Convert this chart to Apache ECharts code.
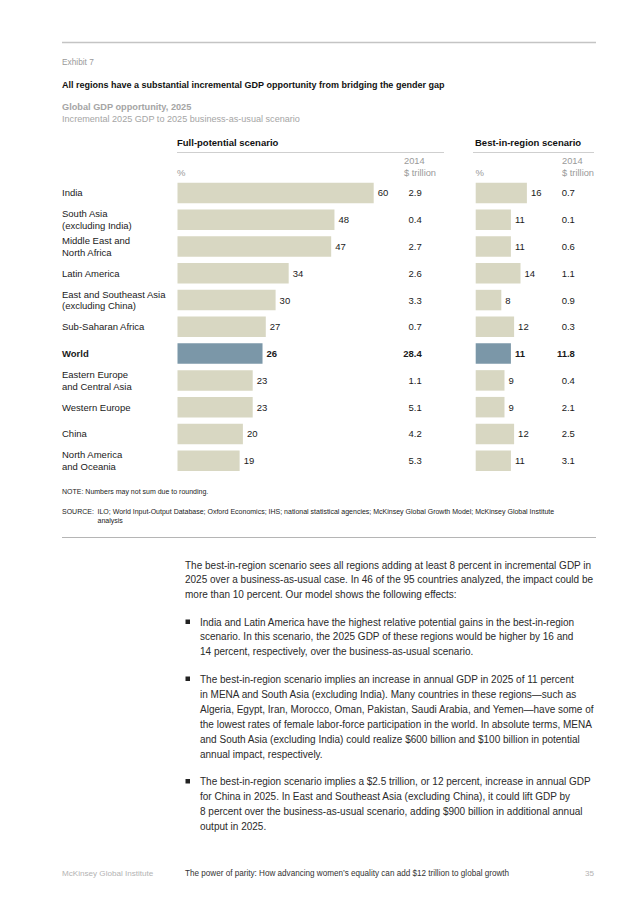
<!DOCTYPE html>
<html><head><meta charset="utf-8">
<script src="https://cdn.jsdelivr.net/npm/echarts@6/dist/echarts.min.js"></script>
<style>html,body{margin:0;padding:0;background:#fff}#c{width:636px;height:900px}</style>
</head><body><div id="c"></div>
<script>
const regions = ['India','South Asia\n(excluding India)','Middle East and\nNorth Africa','Latin America','East and Southeast Asia\n(excluding China)','Sub-Saharan Africa','World','Eastern Europe\nand Central Asia','Western Europe','China','North America\nand Oceania'];
const fullPct = [60,48,47,34,30,27,26,23,23,20,19];
const fullTrillion = ['2.9','0.4','2.7','2.6','3.3','0.7','28.4','1.1','5.1','4.2','5.3'];
const bestPct = [16,11,11,14,8,12,11,9,9,12,11];
const bestTrillion = ['0.7','0.1','0.6','1.1','0.9','0.3','11.8','0.4','2.1','2.5','3.1'];
const highlight = 'World';

const FONT = 'Liberation Sans, Arial, Helvetica, sans-serif';
const BAR = '#d8d7c2', HI = '#7b97a8', INK = '#1a1a1a', GRAY = '#9a9a9a';

const isHi = i => regions[i] === highlight;
const boldFmt = v => v === highlight ? '{b|' + v + '}' : v;
const rich = { b: { fontWeight: 'bold', fontSize: 9.5, color: INK, fontFamily: FONT } };

function barData(vals) {
  return vals.map((v, i) => ({
    value: v,
    itemStyle: { color: isHi(i) ? HI : BAR },
    label: { fontWeight: isHi(i) ? 'bold' : 'normal' }
  }));
}
function yAxes(gi, showLeft, trill) {
  return [
    { gridIndex: gi, type: 'category', data: regions, inverse: true,
      axisLine: { show: false }, axisTick: { show: false }, splitLine: { show: false },
      axisLabel: { show: showLeft, align: 'left', margin: 115.5, fontSize: 9.5, lineHeight: 11.7,
        color: INK, fontFamily: FONT, formatter: boldFmt, rich } },
    { gridIndex: gi, type: 'category', data: trill, inverse: true, position: 'right',
      axisLine: { show: false }, axisTick: { show: false }, splitLine: { show: false },
      axisLabel: { align: 'right', margin: 48, fontSize: 9.5, color: INK, fontFamily: FONT,
        formatter: (v, i) => isHi(i) ? '{b|' + v + '}' : v, rich } }
  ];
}

const bodyLines = [
  [185, 565, 'The best-in-region scenario sees all regions adding at least 8 percent in incremental GDP in'],
  [185, 579.5, '2025 over a business-as-usual case. In 46 of the 95 countries analyzed, the impact could be'],
  [185, 594, 'more than 10 percent. Our model shows the following effects:'],
  [200, 622, 'India and Latin America have the highest relative potential gains in the best-in-region', 1],
  [200, 636.5, 'scenario. In this scenario, the 2025 GDP of these regions would be higher by 16 and'],
  [200, 651, '14 percent, respectively, over the business-as-usual scenario.'],
  [200, 679, 'The best-in-region scenario implies an increase in annual GDP in 2025 of 11 percent', 1],
  [200, 694, 'in MENA and South Asia (excluding India). Many countries in these regions\u2014such as'],
  [200, 709, 'Algeria, Egypt, Iran, Morocco, Oman, Pakistan, Saudi Arabia, and Yemen\u2014have some of'],
  [200, 724, 'the lowest rates of female labor-force participation in the world. In absolute terms, MENA'],
  [200, 739, 'and South Asia (excluding India) could realize $600 billion and $100 billion in potential'],
  [200, 754, 'annual impact, respectively.'],
  [200, 781.5, 'The best-in-region scenario implies a $2.5 trillion, or 12 percent, increase in annual GDP', 1],
  [200, 796.5, 'for China in 2025. In East and Southeast Asia (excluding China), it could lift GDP by'],
  [200, 811, '8 percent over the business-as-usual scenario, adding $900 billion in additional annual'],
  [200, 826, 'output in 2025.']
];

const graphics = [];
function txt(x, y, t, o) {
  graphics.push({ type: 'text', x, y, silent: true,
    style: Object.assign({ text: t, fill: INK, fontSize: 9.5, fontFamily: FONT, textVerticalAlign: 'middle' }, o || {}) });
}
function line(x1, y1, x2, y2, c, w) {
  graphics.push({ type: 'line', silent: true, shape: { x1, y1, x2, y2 }, style: { stroke: c, lineWidth: w } });
}
line(62, 42.5, 596, 42.5, '#c4c4c4', 1.5);
txt(62, 61.5, 'Exhibit 7', { fill: GRAY, fontSize: 8.3 });
txt(62, 84.5, 'All regions have a substantial incremental GDP opportunity from bridging the gender gap', { fontWeight: 'bold', fontSize: 9, fill: '#111' });
txt(62, 107, 'Global GDP opportunity, 2025', { fill: '#a5a5a5', fontWeight: 'bold', fontSize: 9.2 });
txt(62, 119, 'Incremental 2025 GDP to 2025 business-as-usual scenario', { fill: '#a5a5a5', fontSize: 9.1 });
txt(177, 142.5, 'Full-potential scenario', { fontWeight: 'bold', fontSize: 9.5, fill: '#111' });
line(177, 152.5, 444, 152.5, '#cfcfcf', 1.2);
txt(475, 142.5, 'Best-in-region scenario', { fontWeight: 'bold', fontSize: 9.5, fill: '#111' });
line(473, 152.5, 594, 152.5, '#cfcfcf', 1.2);
txt(177, 172.5, '%', { fill: GRAY, fontSize: 9.5 });
txt(404, 161, '2014', { fill: GRAY, fontSize: 9.3 });
txt(404, 172.5, '$ trillion', { fill: GRAY, fontSize: 9.3 });
txt(475.5, 172.5, '%', { fill: GRAY, fontSize: 9.5 });
txt(562, 161, '2014', { fill: GRAY, fontSize: 9.3 });
txt(562, 172.5, '$ trillion', { fill: GRAY, fontSize: 9.3 });
txt(62, 491, 'NOTE: Numbers may not sum due to rounding.', { fontSize: 7, fill: '#222' });
txt(62, 511, 'SOURCE:', { fontSize: 7, fill: '#222' });
txt(97.5, 511, 'ILO; World Input-Output Database; Oxford Economics; IHS; national statistical agencies; McKinsey Global Growth Model; McKinsey Global Institute', { fontSize: 7, fill: '#222' });
txt(97.5, 520.5, 'analysis', { fontSize: 7, fill: '#222' });
line(62, 537.5, 596, 537.5, '#b5b5b5', 1);
bodyLines.forEach(l => {
  if (l[3]) graphics.push({ type: 'rect', silent: true, shape: { x: 185.5, y: l[1] - 2.5, width: 4.5, height: 4.5 }, style: { fill: '#222' } });
  txt(l[0], l[1], l[2], { fontSize: 10, fill: '#2a2a2a' });
});
txt(62, 873, 'McKinsey Global Institute', { fontSize: 8.1, fill: '#b3b3b3' });
txt(185, 873, 'The power of parity: How advancing women\u2019s equality can add $12 trillion to global growth', { fontSize: 8.15, fill: '#333' });
txt(594, 873, '35', { fontSize: 8.1, fill: '#b3b3b3', textAlign: 'right' });

const chart = echarts.init(document.getElementById('c'), null, { renderer: 'svg' });
chart.setOption({
  animation: false,
  textStyle: { fontFamily: FONT },
  grid: [
    { left: 177.5, top: 179.6, width: 196.2, height: 294.5 },
    { left: 475.7, top: 179.6, width: 51.2, height: 294.5 }
  ],
  xAxis: [
    { gridIndex: 0, type: 'value', min: 0, max: 60, show: false },
    { gridIndex: 1, type: 'value', min: 0, max: 16, show: false }
  ],
  yAxis: [].concat(yAxes(0, true, fullTrillion), yAxes(1, false, bestTrillion)),
  series: [
    { type: 'bar', xAxisIndex: 0, yAxisIndex: 0, data: barData(fullPct), barWidth: 20.5,
      label: { show: true, position: 'right', distance: 4, fontSize: 9.5, color: INK, fontFamily: FONT } },
    { type: 'bar', xAxisIndex: 1, yAxisIndex: 2, data: barData(bestPct), barWidth: 20.5,
      label: { show: true, position: 'right', distance: 4, fontSize: 9.5, color: INK, fontFamily: FONT } }
  ],
  graphic: graphics
});
</script></body></html>
